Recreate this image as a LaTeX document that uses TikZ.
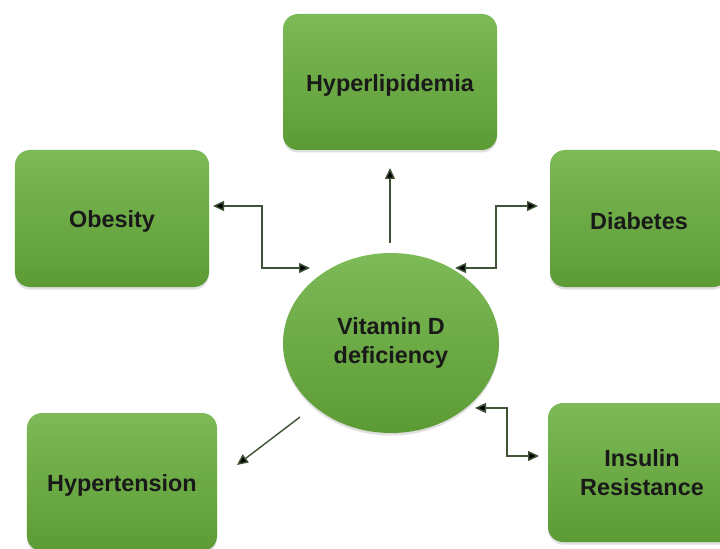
\documentclass[tikz,border=0pt]{standalone}
\usepackage{fontspec}
\setmainfont{Liberation Sans}
\usetikzlibrary{arrows.meta,shapes.geometric,shadows}
\definecolor{gtop}{HTML}{7DBA58}
\definecolor{gbot}{HTML}{5C9B34}
\definecolor{linec}{HTML}{3E5236}
\newcommand{\lowtxt}[1]{\raisebox{-3bp}[\height][\depth]{#1}}
\tikzset{
  box/.style={rectangle, rounded corners=15bp, top color=gtop, bottom color=gbot,
    draw=none, align=center, font=\fontsize{23.5}{29}\selectfont\bfseries, text=black!90,
    drop shadow={opacity=0.25, shadow xshift=0bp, shadow yshift=-2.5bp}},
  blob/.style={ellipse, top color=gtop, bottom color=gbot, draw=none, align=center,
    font=\fontsize{23.5}{29}\selectfont\bfseries, text=black!90, inner sep=0pt,
    drop shadow={opacity=0.25, shadow xshift=0bp, shadow yshift=-2.5bp}},
  tipx/.tip={Triangle[length=11bp,width=10bp,fill=black]},
  conn/.style={draw=linec, line width=1.4bp, -tipx},
  conn2/.style={draw=linec, line width=1.4bp, tipx-tipx}
}
\begin{document}
\begin{tikzpicture}[x=1bp,y=-1bp]
\useasboundingbox (0,0) rectangle (720,549);
\fill[white] (0,0) rectangle (720,549);
\clip (0,0) rectangle (720,549);
\node[box, minimum width=214bp, minimum height=136bp] (hyper) at (390,82) {\lowtxt{Hyperlipidemia}};
\node[box, minimum width=194bp, minimum height=137bp] (obes) at (112,218.5) {\lowtxt{Obesity}};
\node[box, minimum width=178bp, minimum height=137bp] (diab) at (639,218.5) {\lowtxt{Diabetes}};
\node[box, minimum width=190bp, minimum height=138bp] (htn) at (122,482) {\lowtxt{Hypertension}};
\node[box, minimum width=188bp, minimum height=139bp] (ins) at (642,472.5) {Insulin\\Resistance};
\node[blob, minimum width=216bp, minimum height=180bp] (vit) at (391,343) {Vitamin D\\deficiency};
% connector end points
\coordinate (oA) at (213,206);
\coordinate (oB) at (310,268);
\coordinate (dA) at (538,206);
\coordinate (dB) at (455,268);
\coordinate (iA) at (475,408);
\coordinate (iB) at (539,456);
\coordinate (hA) at (390,243);
\coordinate (hB) at (390,168);
\coordinate (tA) at (300,417);
\coordinate (tB) at (237,465);
\draw[conn2] (oA) -- ++(49,0) |- (oB);
\draw[conn2] (dA) -- ++(-42,0) |- (dB);
\draw[conn2] (iA) -- ++(32,0) |- (iB);
\draw[conn] (hA) -- (hB);
\draw[conn] (tA) -- (tB);
\end{tikzpicture}
\end{document}
